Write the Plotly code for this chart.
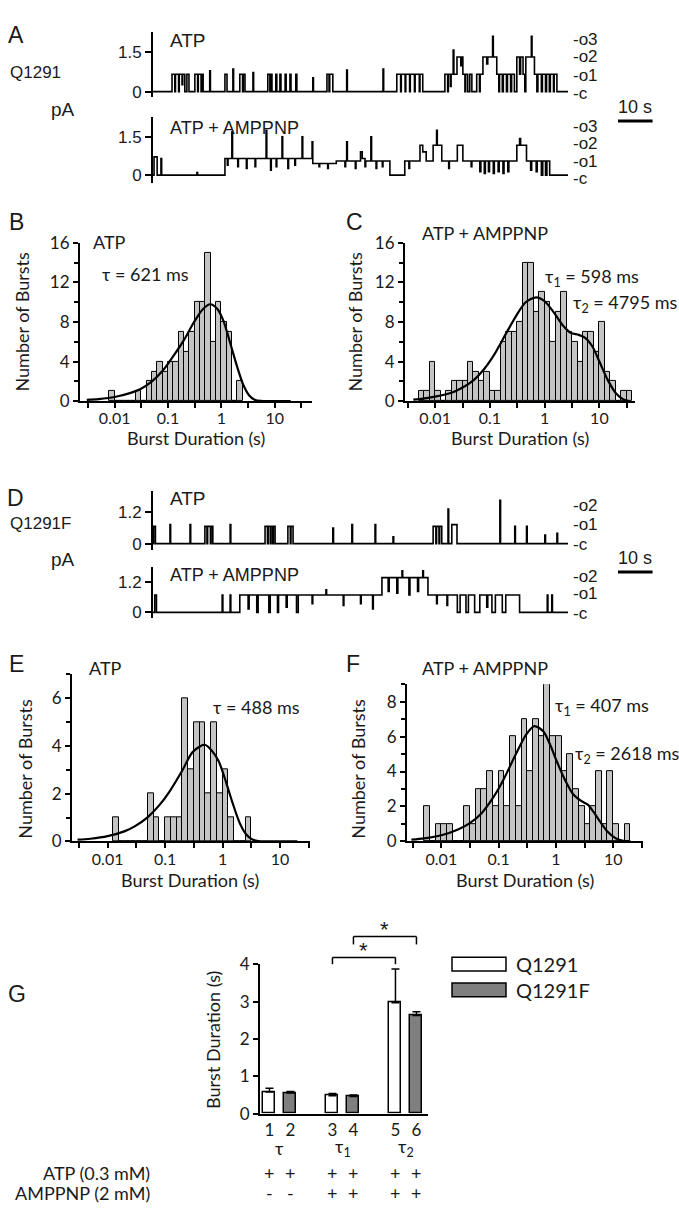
import plotly.graph_objects as go

W, H = 679, 1214

# ======================= DATA =======================
TRACE_LEN_S = 120
SCALE_BAR_S = 10

# single-channel current steps: (time s, open-channel level) ; unit current in pA
a_atp_unit = 0.66
a_atp_steps = [(0, 0), (5.5, 1), (6.3, 0), (6.5, 1), (7.4, 0), (7.6, 1), (8.4, 0.4), (8.6, 1), (9.2, 0),
    (9.8, 1), (10.4, 0), (12.1, 1), (12.9, 0), (13.1, 1), (13.9, 0), (14.1, 1), (14.5, 0),
    (16.4, 1.2), (16.6, 0), (20.8, 1), (21.4, 0), (23.1, 1.3), (23.3, 0), (25.1, 1), (25.9, 0),
    (26.1, 1), (26.6, 0), (28.9, 1.1), (29.1, 0), (33.2, 1), (33.8, 0), (34.0, 1), (34.4, 0),
    (35.5, 1), (35.8, 0), (36.7, 1), (37.0, 0), (38.2, 1), (38.5, 0), (39.6, 1), (39.9, 0),
    (41.3, 1), (41.6, 0), (46.2, 0.8), (46.4, 0), (50.3, 1), (50.9, 0), (51.1, 1), (52.0, 0),
    (56.0, 1.25), (56.2, 0), (66.5, 1.3), (66.7, 0), (70.5, 1), (71.6, 0), (71.8, 1), (72.9, 0),
    (73.1, 1), (74.2, 0), (74.4, 1), (75.6, 0), (75.8, 1), (77.0, 0), (77.2, 1), (78.0, 0),
    (84.4, 1), (85.2, 0), (85.4, 1), (86.0, 0.3), (86.2, 1), (86.8, 2.4), (87.0, 1), (87.9, 2),
    (89.0, 1.5), (89.3, 2), (89.6, 1), (90.2, 0), (90.4, 1), (91.0, 0), (91.6, 1), (92.2, 0),
    (93.6, 1), (94.4, 0), (94.6, 1), (95.4, 2), (96.5, 1.6), (96.8, 2), (98.2, 3.2), (98.4, 2),
    (99.4, 1), (100.0, 0), (100.2, 1), (101.0, 0), (101.3, 1), (102.2, 0), (102.5, 1), (103.4, 0),
    (103.7, 1), (104.5, 0), (105.2, 2), (106.0, 1), (106.3, 2), (107.0, 1), (107.5, 0), (107.8, 2),
    (109.4, 3.2), (109.6, 2), (110.3, 1), (111.0, 0), (111.3, 1), (112.3, 0), (112.6, 1),
    (113.5, 0), (113.8, 1), (114.6, 0), (114.9, 1), (115.8, 0), (116.0, 1), (116.8, 0), (120, 0)]

a_amp_unit = 0.65
a_amp_steps = [(0, 0), (0.3, 1.1), (1.2, 0), (2.3, 1), (2.5, 0), (12.7, 0.15), (12.9, 0),
    (20.8, 1), (21.5, 0.6), (21.7, 1), (22.8, 2.6), (23.0, 1), (24.5, 0.5), (24.7, 1), (27.0, 0.4),
    (27.2, 1), (29.5, 0.5), (29.7, 1), (32.7, 2.7), (32.9, 1), (34.0, 0.3), (34.2, 1), (35.6, 0.5),
    (35.8, 1), (37.3, 2.3), (37.5, 1), (39.0, 0.4), (39.2, 1), (41.0, 0.6), (41.2, 1), (43.1, 2.3),
    (43.3, 1), (46.0, 2.0), (46.2, 0.7), (48.0, 0.5), (48.2, 0.7), (50.5, 0.4), (50.7, 0.7),
    (53.0, 0.85), (55.5, 0.5), (55.7, 0.85), (56.0, 2.0), (56.2, 0.85), (58.5, 0.4), (58.7, 0.85),
    (60.0, 1.4), (60.5, 1.0), (61.3, 0.5), (61.5, 0.85), (63.0, 2.3), (63.2, 0.85), (64.5, 0.4),
    (64.7, 0.85), (66.3, 0.5), (66.5, 0.85), (68.5, 0), (72.8, 0.85), (74.0, 0.4), (74.2, 0.85),
    (77.2, 1.8), (78.0, 1.4), (79.0, 0.85), (81.0, 1.8), (82.0, 2.7), (82.2, 1.8), (83.5, 0.85),
    (85.5, 0.4), (85.7, 0.85), (88.0, 1.8), (89.6, 0.85), (92.0, 0.5), (92.2, 0.85), (94.5, 0.2),
    (94.8, 0.85), (95.8, 0.1), (96.1, 0.85), (97.0, 0.2), (97.3, 0.85), (98.4, 0.1), (98.7, 0.85),
    (99.8, 0.2), (100.1, 0.85), (101.2, 0.1), (101.5, 0.85), (102.6, 0.2), (102.9, 0.85),
    (105.2, 1.8), (106.0, 2.2), (106.3, 1.8), (108.0, 0.85), (109.2, 0.3), (109.5, 0.85),
    (110.8, 0.2), (111.1, 0.85), (112.3, 0), (112.7, 0.85), (113.5, 0), (113.9, 0.85),
    (114.7, 0), (120, 0)]

d_atp_unit = 0.66
d_atp_steps = [(0, 0), (0.2, 1), (0.7, 0), (4.9, 1.1), (5.1, 0), (10.7, 1.1), (10.9, 0), (15.0, 1),
    (15.6, 0), (15.8, 1), (16.6, 0), (16.8, 1), (17.3, 0), (22.3, 1.1), (22.5, 0), (32.4, 1),
    (33.1, 0), (33.3, 1), (33.9, 0), (34.1, 1), (34.6, 0), (34.8, 1), (35.3, 0), (39.0, 1),
    (39.7, 0), (39.9, 1), (40.5, 0), (52.0, 0.9), (52.2, 0), (57.5, 1.1), (57.7, 0), (64.2, 1.1),
    (64.4, 0), (69.4, 0.4), (69.6, 0), (81.0, 1), (81.8, 0), (82.0, 1), (82.7, 0), (82.9, 1),
    (83.5, 0), (85.3, 2.0), (85.5, 0), (86.4, 1.1), (87.9, 0), (100.3, 2.5), (100.5, 0),
    (104.6, 1.0), (104.8, 0), (108.0, 1.0), (108.2, 0), (113.3, 0.5), (113.5, 0), (116.8, 0.6),
    (117.0, 0), (120, 0)]

d_amp_unit = 0.68
d_amp_steps = [(0, 0), (0.5, 1), (1.0, 0), (20.0, 1), (20.2, 0), (22.3, 1), (22.5, 0), (25.1, 1),
    (27.5, 0.2), (27.8, 1), (30.0, 0), (30.4, 1), (33.5, 0), (33.9, 1), (36.0, 0), (36.3, 1),
    (38.5, 0.3), (38.8, 1), (41.5, 0), (42.0, 1), (46.0, 0.5), (46.2, 1), (50.0, 1.3), (50.2, 1),
    (55.0, 0.4), (55.2, 1), (60.0, 0.5), (60.2, 1), (63.5, 0.2), (63.7, 1), (66.2, 2), (68.0, 1.2),
    (68.3, 2), (70.5, 1.1), (70.8, 2), (72.0, 2.4), (72.2, 2), (74.0, 1.0), (74.3, 2), (76.5, 1.2),
    (76.8, 2), (78.0, 2.4), (78.2, 2), (79.5, 1), (82.0, 0.5), (82.2, 1), (85.0, 0.4), (85.2, 1),
    (88.0, 0), (88.8, 1), (90.5, 0), (91.2, 1), (93.0, 0), (94.5, 1), (96.5, 0.3), (96.8, 1),
    (98.0, 0), (99.0, 1), (101.0, 0), (102.0, 1), (106.0, 0), (114.0, 1), (114.2, 0), (115.3, 1),
    (115.5, 0), (120, 0)]

# burst-duration histograms: 10 bins per decade, counts start at bin whose left edge = log10 value
b_first_bin = -2.1
b_counts = [1, 0, 0, 0, 0, 1, 0, 2, 3, 4, 3, 4, 4, 7, 5, 7, 10, 10, 15, 6, 10, 8, 7, 0, 2]
b_fit_s = [0.003, 0.005, 0.01, 0.02, 0.03, 0.05, 0.08, 0.12, 0.2, 0.3, 0.45, 0.62, 0.85, 1.1,
           1.5, 2.0, 2.6, 3.3, 4.2, 5.5, 8, 20]
b_fit_n = [0.13, 0.21, 0.42, 0.84, 1.2, 2.0, 3.1, 4.4, 6.2, 7.9, 9.3, 9.8, 9.3, 8.1, 5.7, 3.4,
           1.6, 0.6, 0.15, 0.02, 0, 0]

c_first_bin = -2.3
c_counts = [1, 1, 4, 1, 0, 1, 2, 2, 2, 4, 3, 2, 3, 1, 1, 6, 7, 7, 8, 14, 14, 9, 11, 10, 6, 9, 11,
            7, 6, 4, 7, 7, 5, 8, 3, 2, 0, 1, 1]
c_fit_s = [0.004, 0.006, 0.01, 0.02, 0.03, 0.05, 0.08, 0.12, 0.2, 0.3, 0.45, 0.7, 1.0, 1.5, 2.2,
           3.0, 4.2, 5.5, 7.5, 10, 14, 20, 27, 35]
c_fit_n = [0.15, 0.25, 0.45, 0.85, 1.3, 2.1, 3.3, 4.7, 6.9, 8.6, 10.0, 10.5, 10.1, 8.9, 7.6, 6.9,
           6.7, 6.4, 5.5, 4.0, 2.2, 0.8, 0.2, 0.0]

e_first_bin = -1.9
e_counts = [1, 0, 0, 0, 0, 0, 2, 1, 0, 1, 1, 1, 6, 3, 5, 5, 2, 5, 2, 3, 1, 0, 0, 1]
e_fit_s = [0.003, 0.005, 0.01, 0.02, 0.03, 0.05, 0.08, 0.12, 0.2, 0.3, 0.488, 0.65, 0.85, 1.1,
           1.5, 2.0, 2.6, 3.3, 4.2, 6, 20]
e_fit_n = [0.07, 0.11, 0.22, 0.43, 0.64, 1.02, 1.53, 2.1, 2.98, 3.74, 4.05, 3.8, 3.37, 2.62, 1.59,
           0.75, 0.28, 0.08, 0.01, 0, 0]

f_first_bin = -2.3
f_counts = [2, 0, 1, 1, 1, 0, 0, 2, 1, 3, 3, 4, 2, 4, 2, 6, 2, 7, 4, 7, 6, 9, 6, 6, 4, 5, 3, 2,
            1, 2, 4, 1, 4, 1, 0, 1]
f_fit_s = [0.003, 0.005, 0.01, 0.02, 0.03, 0.05, 0.08, 0.12, 0.2, 0.3, 0.42, 0.6, 0.8, 1.0, 1.4,
           2.0, 2.8, 3.6, 4.5, 6, 8, 11, 15, 20]
f_fit_n = [0.1, 0.17, 0.35, 0.7, 1.0, 1.6, 2.5, 3.5, 5.0, 6.1, 6.6, 6.3, 5.5, 4.7, 3.6, 2.7, 2.3,
           2.1, 1.7, 1.1, 0.55, 0.18, 0.03, 0]

# panel G: mean burst durations (s) and SEM
g_labels = ["1", "2", "3", "4", "5", "6"]
g_q1291_mean = [0.58, 0.48, 2.97]
g_q1291_sem = [0.10, 0.06, 0.90]
g_q1291f_mean = [0.55, 0.46, 2.63]
g_q1291f_sem = [0.04, 0.04, 0.10]
g_groups = ["τ", "τ<sub>1</sub>", "τ<sub>2</sub>"]
g_atp_row = ["+", "+", "+", "+", "+", "+"]
g_amppnp_row = ["-", "-", "+", "+", "+", "+"]

# ======================= FIGURE =======================
ARIAL = "Liberation Sans, Arial, sans-serif"
CAL = "Lato, DejaVu Sans, sans-serif"
INK = "#1a1a1a"


def px(x):
    return x / W


def py(y):
    return 1 - y / H


fig = go.Figure()
layout = {}
annotations = []
shapes = []


def ann(text, x, y, size=15, font=CAL, xanchor="center", yanchor="middle", angle=0,
        xref="paper", yref="paper"):
    annotations.append(dict(text=text, x=px(x) if xref == "paper" else x,
                            y=py(y) if yref == "paper" else y, xref=xref, yref=yref,
                            showarrow=False, xanchor=xanchor, yanchor=yanchor, textangle=angle,
                            font=dict(family=font, size=size, color=INK)))


# ---- single-channel trace panels ----
def trace_panel(n, steps, unit, x0, x1, y_zero_px, px_per_pA, top_px, bot_px, ticks, tlabels,
                states_lbl):
    xs = [t for t, s in steps]
    ys = [s * unit for t, s in steps]
    fig.add_trace(go.Scatter(x=xs, y=ys, mode="lines", line=dict(color="black", width=1.6,
                             shape="hv"), xaxis=f"x{n}", yaxis=f"y{n}", showlegend=False,
                             hoverinfo="skip"))
    yr = [-(bot_px - y_zero_px) / px_per_pA, (y_zero_px - top_px) / px_per_pA]
    layout[f"xaxis{n}"] = dict(domain=[px(x0), px(x1)], range=[0, TRACE_LEN_S], visible=False,
                               anchor=f"y{n}")
    layout[f"yaxis{n}"] = dict(domain=[py(bot_px), py(top_px)], range=yr, anchor=f"x{n}",
                               showline=True, linewidth=2, linecolor="black", ticks="outside",
                               ticklen=6, tickwidth=2, tickcolor="black", tickvals=ticks,
                               ticktext=tlabels, showgrid=False, zeroline=False,
                               tickfont=dict(family=ARIAL, size=17, color=INK))
    for lbl, lvl in states_lbl:
        ann(lbl, x1 + 3, lvl, size=17, font=ARIAL, xanchor="left", xref="paper", yref=f"y{n}")


A_X0, A_X1 = 153, 568
trace_panel(1, a_atp_steps, a_atp_unit, A_X0, A_X1, 82, 26.67, 21, 88, [0, 1.5], ["0", "1.5"],
            [("-o3", 2.0), ("-o2", 1.32), ("-o1", 0.62), ("-c", -0.08)])
trace_panel(2, a_amp_steps, a_amp_unit, A_X0, A_X1, 167, 26.0, 108, 175, [0, 1.5], ["0", "1.5"],
            [("-o3", 1.92), ("-o2", 1.25), ("-o1", 0.55), ("-c", -0.12)])
trace_panel(5, d_atp_steps, d_atp_unit, A_X0, A_X1, 542, 26.67, 488, 548, [0, 1.2], ["0", "1.2"],
            [("-o2", 1.45), ("-o1", 0.72), ("-c", -0.05)])
trace_panel(6, d_amp_steps, d_amp_unit, A_X0, A_X1, 612, 26.0, 566, 618, [0, 1.2], ["0", "1.2"],
            [("-o2", 1.42), ("-o1", 0.75), ("-c", -0.05)])

# scale bars (10 s) computed from trace time scale
bar_len_px = SCALE_BAR_S * (A_X1 - A_X0) / TRACE_LEN_S
for y_bar, y_txt in [(112, 98), (571, 557)]:
    shapes.append(dict(type="line", xref="paper", yref="paper", x0=px(618), x1=px(618 + bar_len_px),
                       y0=py(y_bar), y1=py(y_bar), line=dict(color="black", width=3)))
    ann("10 s", 618 + bar_len_px / 2, y_txt, size=18, font=ARIAL)

ann("A", 16, 24, size=23, font=ARIAL)
ann("Q1291", 8, 63, size=17, font=ARIAL, xanchor="left")
ann("pA", 63, 100, size=19, font=ARIAL)
ann("ATP", 168, 30, size=19, font=ARIAL, xanchor="left")
ann("ATP + AMPPNP", 168, 119, size=18, font=ARIAL, xanchor="left")

ann("D", 15, 496, size=23, font=ARIAL)
ann("Q1291F", 8, 522, size=17, font=ARIAL, xanchor="left")
ann("pA", 63, 558, size=19, font=ARIAL)
ann("ATP", 168, 496, size=19, font=ARIAL, xanchor="left")
ann("ATP + AMPPNP", 168, 574, size=18, font=ARIAL, xanchor="left")


# ---- histograms ----
def hist_panel(n, first_bin, counts, fit_s, fit_n, x0, x1, xr, bot, top, ymax, major, minor):
    import math
    centers = [first_bin + 0.1 * i + 0.05 for i in range(len(counts))]
    fig.add_trace(go.Bar(x=centers, y=counts, width=0.1, marker=dict(color="#c4c4c4",
                         line=dict(color="black", width=1)), xaxis=f"x{n}", yaxis=f"y{n}",
                         showlegend=False, hoverinfo="skip"))
    fig.add_trace(go.Scatter(x=[math.log10(s) for s in fit_s], y=fit_n, mode="lines",
                             line=dict(color="black", width=2.2, shape="spline", smoothing=0.8),
                             xaxis=f"x{n}", yaxis=f"y{n}", showlegend=False, hoverinfo="skip"))
    layout[f"xaxis{n}"] = dict(domain=[px(x0), px(x1)], range=xr, anchor=f"y{n}", showline=True,
                               linewidth=2, linecolor="black", ticks="outside", ticklen=5,
                               tickwidth=2, tickcolor="black",
                               tickvals=[-2.5, -2, -1.5, -1, -0.5, 0, 0.5, 1, 1.5],
                               ticktext=["", "0.01", "", "0.1", "", "1", "", "10", ""],
                               showgrid=False, zeroline=False, ticklabelstandoff=-3,
                               tickfont=dict(family=CAL, size=16, color=INK))
    layout[f"yaxis{n}"] = dict(domain=[py(bot), py(top)], range=[0, ymax], anchor=f"x{n}",
                               showline=True, linewidth=2, linecolor="black", ticks="outside",
                               ticklen=5, tickwidth=2, tickcolor="black", tickvals=major,
                               showgrid=False, zeroline=False,
                               tickfont=dict(family=CAL, size=17, color=INK),
                               minor=dict(tickvals=minor, ticks="outside", ticklen=4,
                                          tickwidth=1.5, tickcolor="black", showgrid=False))


hist_panel(3, b_first_bin, b_counts, b_fit_s, b_fit_n, 80, 312, [-2.65, 1.7], 397, 236, 16,
           [0, 4, 8, 12, 16], [2, 6, 10, 14])
hist_panel(4, c_first_bin, c_counts, c_fit_s, c_fit_n, 405, 635, [-2.55, 1.65], 397, 236, 16,
           [0, 4, 8, 12, 16], [2, 6, 10, 14])
hist_panel(7, e_first_bin, e_counts, e_fit_s, e_fit_n, 72, 310, [-2.62, 1.52], 845, 675, 7,
           [0, 2, 4, 6], [1, 3, 5, 7])
hist_panel(8, f_first_bin, f_counts, f_fit_s, f_fit_n, 407, 643, [-2.6, 1.52], 845, 685, 9,
           [0, 2, 4, 6, 8], [1, 3, 5, 7, 9])

HS = 18
ann("B", 16, 215, size=23, font=ARIAL)
ann("ATP", 91, 235, size=HS, xanchor="left")
ann("τ = 621 ms", 100, 268, size=HS, xanchor="left")
ann("Number of Bursts", 22, 316, size=HS, angle=-90)
ann("Burst Duration (s)", 196, 435, size=HS)

ann("C", 354, 215, size=23, font=ARIAL)
ann("ATP + AMPPNP", 420, 226, size=HS, xanchor="left")
ann("τ<sub>1</sub> = 598 ms", 543, 271, size=HS, xanchor="left")
ann("τ<sub>2</sub> = 4795 ms", 571, 298, size=HS, xanchor="left")
ann("Number of Bursts", 355, 316, size=HS, angle=-90)
ann("Burst Duration (s)", 520, 435, size=HS)

ann("E", 16, 665, size=23, font=ARIAL)
ann("ATP", 87, 669, size=HS, xanchor="left")
ann("τ = 488 ms", 211, 708, size=HS, xanchor="left")
ann("Number of Bursts", 25, 771, size=HS, angle=-90)
ann("Burst Duration (s)", 190, 884, size=HS)

ann("F", 353, 665, size=23, font=ARIAL)
ann("ATP + AMPPNP", 420, 669, size=HS, xanchor="left")
ann("τ<sub>1</sub> = 407 ms", 553, 708, size=HS, xanchor="left")
ann("τ<sub>2</sub> = 2618 ms", 573, 757, size=HS, xanchor="left")
ann("Number of Bursts", 358, 771, size=HS, angle=-90)
ann("Burst Duration (s)", 525, 884, size=HS)

# ---- panel G ----
G_X0, G_X1, G_Y0, G_Y4 = 260, 428, 1122, 970
G_XR = [0.55, 8.55]
G_YR = [0, 4]
g_pos_white = [1, 4, 7]
g_pos_grey = [2, 5, 8]


def gx(v):
    return G_X0 + (v - G_XR[0]) * (G_X1 - G_X0) / (G_XR[1] - G_XR[0])


def gy(v):
    return G_Y0 - (v - G_YR[0]) * (G_Y0 - G_Y4) / (G_YR[1] - G_YR[0])


for pos, mean, sem, col in [(g_pos_white, g_q1291_mean, g_q1291_sem, "white"),
                            (g_pos_grey, g_q1291f_mean, g_q1291f_sem, "#7f7f7f")]:
    fig.add_trace(go.Bar(x=pos, y=mean, width=0.57, marker=dict(color=col,
                         line=dict(color="black", width=1.5)),
                         error_y=dict(type="data", array=sem, arrayminus=[0] * len(sem),
                                      symmetric=False, color="black", thickness=1.5, width=4),
                         xaxis="x9", yaxis="y9", showlegend=False, hoverinfo="skip"))

all_pos = [1, 2, 4, 5, 7, 8]
layout["xaxis9"] = dict(domain=[px(G_X0), px(G_X1)], range=G_XR, anchor="y9", showline=True,
                        linewidth=2, linecolor="black", ticks="", tickvals=all_pos,
                        ticktext=g_labels, showgrid=False, zeroline=False,
                        tickfont=dict(family=CAL, size=17, color=INK))
layout["yaxis9"] = dict(domain=[py(G_Y0), py(G_Y4)], range=G_YR, anchor="x9", showline=True,
                        linewidth=2, linecolor="black", ticks="outside", ticklen=5, tickwidth=2,
                        tickcolor="black", tickvals=[0, 1, 2, 3, 4], showgrid=False,
                        zeroline=False, tickfont=dict(family=CAL, size=17, color=INK))

for i, grp in enumerate(g_groups):
    ann(grp, gx((all_pos[2 * i] + all_pos[2 * i + 1]) / 2), 1157, size=18)
for p, a, b in zip(all_pos, g_atp_row, g_amppnp_row):
    ann(a, gx(p), 1182, size=18)
    ann(b, gx(p), 1203, size=18)
ann("ATP (0.3 mM)", 152, 1182, size=18, xanchor="right")
ann("AMPPNP (2 mM)", 152, 1203, size=18, xanchor="right")
ann("Burst Duration (s)", 213, 1047, size=18, angle=-90)
ann("G", 17, 1000, size=23, font=ARIAL)

# significance brackets (in data units of the bar chart)
for xa, xb, yv, ytick in [(4, 7, 4.18, 4.0), (5, 8, 4.74, 4.53)]:
    for xs_, ys_ in [((xa, xa), (ytick, yv)), ((xa, xb), (yv, yv)), ((xb, xb), (yv, ytick))]:
        shapes.append(dict(type="line", xref="paper", yref="paper", x0=px(gx(xs_[0])),
                           x1=px(gx(xs_[1])), y0=py(gy(ys_[0])), y1=py(gy(ys_[1])),
                           line=dict(color="black", width=1.5)))
    ann("*", gx((xa + xb) / 2), gy(yv) + 8, size=22, font=ARIAL, yanchor="bottom")

# legend
for y_box, col, lbl in [(970, "white", "Q1291"), (996, "#7f7f7f", "Q1291F")]:
    shapes.append(dict(type="rect", xref="paper", yref="paper", x0=px(452), x1=px(506),
                       y0=py(y_box + 7), y1=py(y_box - 7), fillcolor=col,
                       line=dict(color="black", width=1.5)))
    ann(lbl, 514, y_box, size=20, xanchor="left")

fig.update_layout(width=W, height=H, margin=dict(l=0, r=0, t=0, b=0), plot_bgcolor="white",
                  paper_bgcolor="white", bargap=0, annotations=annotations, shapes=shapes,
                  **layout)
fig.write_html("out.html", config={"displayModeBar": False},
               post_script="document.body.style.margin='0px';")
